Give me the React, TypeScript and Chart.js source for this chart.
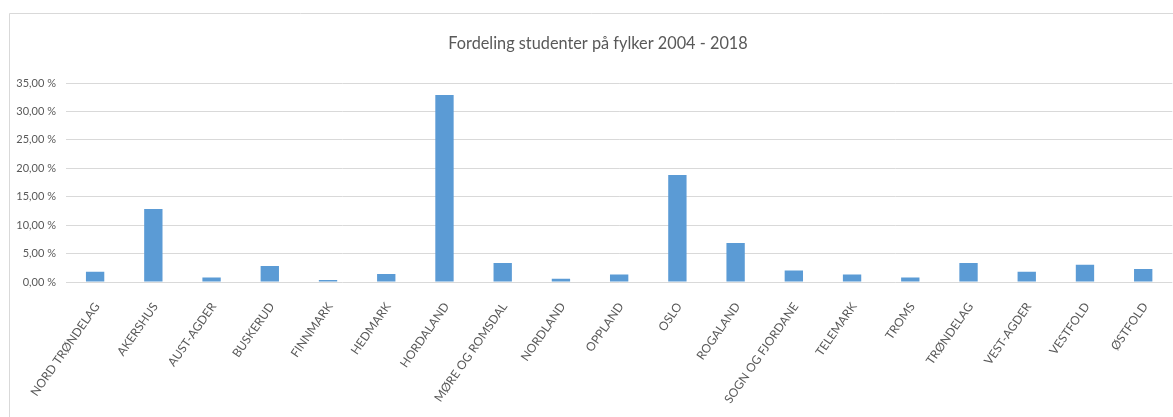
import React, { useEffect, useRef } from "react";
import { Chart, registerables } from "chart.js";

Chart.register(...registerables);

const categories: string[] = [
  "NORD TRØNDELAG",
  "AKERSHUS",
  "AUST-AGDER",
  "BUSKERUD",
  "FINNMARK",
  "HEDMARK",
  "HORDALAND",
  "MØRE OG ROMSDAL",
  "NORDLAND",
  "OPPLAND",
  "OSLO",
  "ROGALAND",
  "SOGN OG FJORDANE",
  "TELEMARK",
  "TROMS",
  "TRØNDELAG",
  "VEST-AGDER",
  "VESTFOLD",
  "ØSTFOLD",
];

const shares: number[] = [
  1.81, 12.84, 0.81, 2.81, 0.35, 1.4, 32.9, 3.34, 0.58, 1.34, 18.8, 6.86, 2.04,
  1.34, 0.81, 3.34, 1.81, 3.04, 2.28,
];

const yTicks: number[] = [0, 5, 10, 15, 20, 25, 30, 35];

const titleText = "Fordeling studenter på fylker 2004 - 2018";

const FONT = "Lato, 'Open Sans', sans-serif";
const TEXT = "#595959";

const frame = {
  id: "frame",
  beforeDraw(chart: any) {
    const c = chart.ctx;
    c.save();
    c.fillStyle = "#ffffff";
    c.fillRect(0, 0, chart.width, chart.height);
    c.strokeStyle = "#d9d9d9";
    c.lineWidth = 1;
    c.beginPath();
    c.moveTo(9.5, chart.height);
    c.lineTo(9.5, 13.5);
    c.lineTo(chart.width, 13.5);
    c.stroke();
    c.fillStyle = TEXT;
    c.font = "16.3px " + FONT;
    c.textAlign = "center";
    c.textBaseline = "middle";
    c.fillText(titleText, 598, 44);
    c.restore();
  },
};

export default function App() {
  const ref = useRef<HTMLCanvasElement | null>(null);

  useEffect(() => {
    if (!ref.current) return;
    const chart = new Chart(ref.current, {
      type: "bar",
      data: {
        labels: categories,
        datasets: [
          {
            data: shares,
            backgroundColor: "#5b9bd5",
            borderWidth: 0,
            categoryPercentage: 1,
            barPercentage: 0.315,
          },
        ],
      },
      options: {
        responsive: false,
        animation: false,
        layout: { padding: { left: 0, right: 0, top: 83, bottom: 0 } },
        plugins: {
          legend: { display: false },
          tooltip: { enabled: false },
          title: { display: false },
        },
        scales: {
          x: {
            grid: { display: false, drawTicks: false },
            border: { display: false },
            ticks: {
              color: TEXT,
              font: { family: FONT, size: 12 },
              minRotation: 55,
              maxRotation: 55,
              autoSkip: false,
              padding: 18,
              labelOffset: 2,
            },
            afterFit(scale: any) {
              scale.height = 135;
            },
          },
          y: {
            min: 0,
            max: 35,
            afterBuildTicks(scale: any) {
              scale.ticks = yTicks.map((v) => ({ value: v }));
            },
            grid: { color: "#d9d9d9", lineWidth: 1, drawTicks: false },
            border: { display: false },
            ticks: {
              color: TEXT,
              font: { family: FONT, size: 11 },
              padding: 10,
              callback: (v: any) => Number(v).toFixed(2).replace(".", ",") + " %",
            },
            afterFit(scale: any) {
              scale.width = 66;
            },
          },
        },
      },
      plugins: [frame],
    });
    return () => chart.destroy();
  }, []);

  return (
    <div style={{ position: "fixed", left: 0, top: 0, width: 1173, height: 417, background: "#fff" }}>
      <canvas ref={ref} width={1173} height={417} />
    </div>
  );
}
